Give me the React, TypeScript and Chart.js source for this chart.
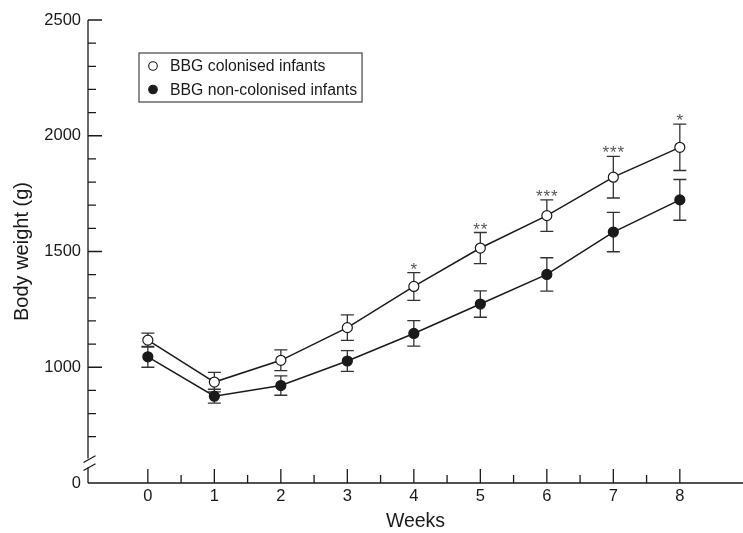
import React, { useEffect, useRef } from 'react';
import { Chart, registerables } from 'chart.js';

Chart.register(...registerables);

// ---- data ----
const weeks = [0, 1, 2, 3, 4, 5, 6, 7, 8];
const colonisedMean = [1117, 936, 1030, 1171, 1349, 1515, 1655, 1821, 1950];
const colonisedSE = [30, 42, 45, 55, 60, 67, 68, 90, 100];
const nonColonisedMean = [1045, 875, 921, 1027, 1146, 1273, 1401, 1584, 1723];
const nonColonisedSE = [45, 30, 42, 45, 55, 57, 72, 85, 88];
const significance = ['', '', '', '', '*', '**', '***', '***', '*'];
const seriesLabels = ['BBG colonised infants', 'BBG non-colonised infants'];

// y axis is broken: the bottom tick (drawn at value 500) is labelled "0"
const yMajorTicks = [500, 1000, 1500, 2000, 2500];
const yTickLabels = ['0', '1000', '1500', '2000', '2500'];
const yMinorTicks = [700, 800, 900, 1100, 1200, 1300, 1400, 1600, 1700, 1800, 1900, 2100, 2200, 2300, 2400];
const xMinorTicks = [0.5, 1.5, 2.5, 3.5, 4.5, 5.5, 6.5, 7.5];
const yBreakValue = 586;

const FONT = '"Liberation Sans", Arial, Helvetica, sans-serif';
const INK = '#1a1a1a';

const decorPlugin = {
  id: 'decor',
  beforeDatasetsDraw(chart: any) {
    const { ctx, chartArea, scales } = chart;
    const x = scales.x;
    const y = scales.y;
    const ax = chartArea.left;
    const bottom = chartArea.bottom;
    ctx.save();
    ctx.strokeStyle = INK;
    ctx.lineWidth = 1.3;
    ctx.lineCap = 'butt';
    // y axis with break
    const yb = y.getPixelForValue(yBreakValue);
    ctx.beginPath();
    ctx.moveTo(ax, y.getPixelForValue(2500));
    ctx.lineTo(ax, yb - 4.5);
    ctx.moveTo(ax, yb + 4.5);
    ctx.lineTo(ax, bottom);
    // x axis
    ctx.moveTo(ax, bottom);
    ctx.lineTo(chart.width, bottom);
    ctx.stroke();
    // break slashes
    ctx.beginPath();
    [-4, 4].forEach((d) => {
      const cx = ax + 1.5;
      const cy = yb + d;
      ctx.moveTo(cx - 6, cy + 3.4);
      ctx.lineTo(cx + 6, cy - 3.4);
    });
    ctx.stroke();
    // y ticks (inward)
    ctx.beginPath();
    yMajorTicks.forEach((v) => {
      if (v === 500) return;
      const py = y.getPixelForValue(v);
      ctx.moveTo(ax, py);
      ctx.lineTo(ax + 14, py);
    });
    yMinorTicks.forEach((v) => {
      const py = y.getPixelForValue(v);
      ctx.moveTo(ax, py);
      ctx.lineTo(ax + 8, py);
    });
    // x ticks (inward)
    weeks.forEach((v) => {
      const px = x.getPixelForValue(v);
      ctx.moveTo(px, bottom);
      ctx.lineTo(px, bottom - 14);
    });
    xMinorTicks.forEach((v) => {
      const px = x.getPixelForValue(v);
      ctx.moveTo(px, bottom);
      ctx.lineTo(px, bottom - 8);
    });
    ctx.stroke();

    // error bars
    ctx.strokeStyle = '#333';
    ctx.lineWidth = 1.3;
    const sets = [
      { m: colonisedMean, e: colonisedSE },
      { m: nonColonisedMean, e: nonColonisedSE },
    ];
    ctx.beginPath();
    sets.forEach((s) => {
      weeks.forEach((w, i) => {
        const px = x.getPixelForValue(w);
        const top = y.getPixelForValue(s.m[i] + s.e[i]);
        const bot = y.getPixelForValue(s.m[i] - s.e[i]);
        ctx.moveTo(px, top);
        ctx.lineTo(px, bot);
        ctx.moveTo(px - 6.5, top);
        ctx.lineTo(px + 6.5, top);
        ctx.moveTo(px - 6.5, bot);
        ctx.lineTo(px + 6.5, bot);
      });
    });
    ctx.stroke();
    ctx.restore();
  },
  afterDraw(chart: any) {
    const { ctx, chartArea, scales } = chart;
    const x = scales.x;
    const y = scales.y;
    ctx.save();
    // significance asterisks
    ctx.fillStyle = '#555';
    ctx.font = `17px ${FONT}`;
    ctx.textAlign = 'center';
    ctx.textBaseline = 'alphabetic';
    weeks.forEach((w, i) => {
      const s = significance[i];
      if (!s) return;
      const px = x.getPixelForValue(w);
      const py = y.getPixelForValue(colonisedMean[i] + colonisedSE[i]);
      const n = s.length;
      for (let k = 0; k < n; k++) {
        ctx.fillText('*', px + (k - (n - 1) / 2) * 7.5, py + 2);
      }
    });

    // legend box
    const ds = chart.data.datasets;
    ctx.font = `15.8px ${FONT}`;
    const left = chartArea.left + 51;
    const top = chartArea.top + 33;
    const textX = left + 31;
    let maxW = 0;
    ds.forEach((d: any) => {
      maxW = Math.max(maxW, ctx.measureText(d.label).width);
    });
    const w = textX - left + maxW + 5;
    const h = 49;
    ctx.strokeStyle = '#444';
    ctx.lineWidth = 1.2;
    ctx.strokeRect(left, top, w, h);
    ctx.textAlign = 'left';
    ctx.textBaseline = 'middle';
    ds.forEach((d: any, i: number) => {
      const cy = top + 13 + i * 23.5;
      ctx.beginPath();
      ctx.arc(left + 14, cy, 4.3, 0, Math.PI * 2);
      ctx.fillStyle = d.pointBackgroundColor;
      ctx.fill();
      ctx.strokeStyle = d.pointBorderColor;
      ctx.lineWidth = 1.1;
      ctx.stroke();
      ctx.fillStyle = INK;
      ctx.fillText(d.label, textX, cy + 1);
    });
    ctx.restore();
  },
};

export default function App() {
  const ref = useRef<HTMLCanvasElement | null>(null);
  useEffect(() => {
    if (!ref.current) return;
    const toPts = (m: number[]) => weeks.map((w, i) => ({ x: w, y: m[i] }));
    const chart = new Chart(ref.current, {
      type: 'line',
      data: {
        datasets: [
          {
            label: seriesLabels[0],
            data: toPts(colonisedMean),
            borderColor: INK,
            borderWidth: 1.5,
            pointRadius: 5,
            pointBorderWidth: 1.2,
            pointBackgroundColor: '#ffffff',
            pointBorderColor: INK,
            tension: 0,
          },
          {
            label: seriesLabels[1],
            data: toPts(nonColonisedMean),
            borderColor: INK,
            borderWidth: 1.5,
            pointRadius: 5,
            pointBorderWidth: 1.2,
            pointBackgroundColor: INK,
            pointBorderColor: INK,
            tension: 0,
          },
        ],
      },
      options: {
        animation: false,
        responsive: false,
        layout: { autoPadding: false, padding: { top: 20, left: 0, right: 0, bottom: 0 } },
        plugins: { legend: { display: false }, tooltip: { enabled: false } },
        scales: {
          x: {
            type: 'linear',
            min: -0.9,
            max: 8.95,
            grid: { display: false, drawTicks: false },
            border: { display: false },
            afterBuildTicks: (s: any) => {
              s.ticks = weeks.map((v) => ({ value: v }));
            },
            afterFit: (s: any) => {
              s.height = 50;
              s.paddingLeft = 0;
              s.paddingRight = 0;
            },
            ticks: {
              padding: 4,
              color: INK,
              font: { family: FONT, size: 16.5 },
              maxRotation: 0,
              autoSkip: false,
            },
            title: {
              display: true,
              text: 'Weeks',
              color: INK,
              font: { family: FONT, size: 19.5 },
              padding: { top: 0, bottom: 0 },
            },
          },
          y: {
            type: 'linear',
            min: 500,
            max: 2500,
            grid: { display: false, drawTicks: false },
            border: { display: false },
            afterBuildTicks: (s: any) => {
              s.ticks = yMajorTicks.map((v) => ({ value: v }));
            },
            afterFit: (s: any) => {
              s.width = 88;
            },
            ticks: {
              padding: 7,
              color: INK,
              font: { family: FONT, size: 16.5 },
              autoSkip: false,
              callback: (v: any) => yTickLabels[yMajorTicks.indexOf(Number(v))] ?? '',
            },
            title: {
              display: true,
              text: 'Body weight (g)',
              color: INK,
              font: { family: FONT, size: 20 },
              padding: { top: 10.5, bottom: 0 },
            },
          },
        },
      },
      plugins: [decorPlugin],
    });
    return () => chart.destroy();
  }, []);
  return (
    <div style={{ position: 'fixed', left: 0, top: 0, width: 743, height: 533, background: '#fff' }}>
      <canvas ref={ref} width={743} height={533} style={{ display: 'block' }} />
    </div>
  );
}
